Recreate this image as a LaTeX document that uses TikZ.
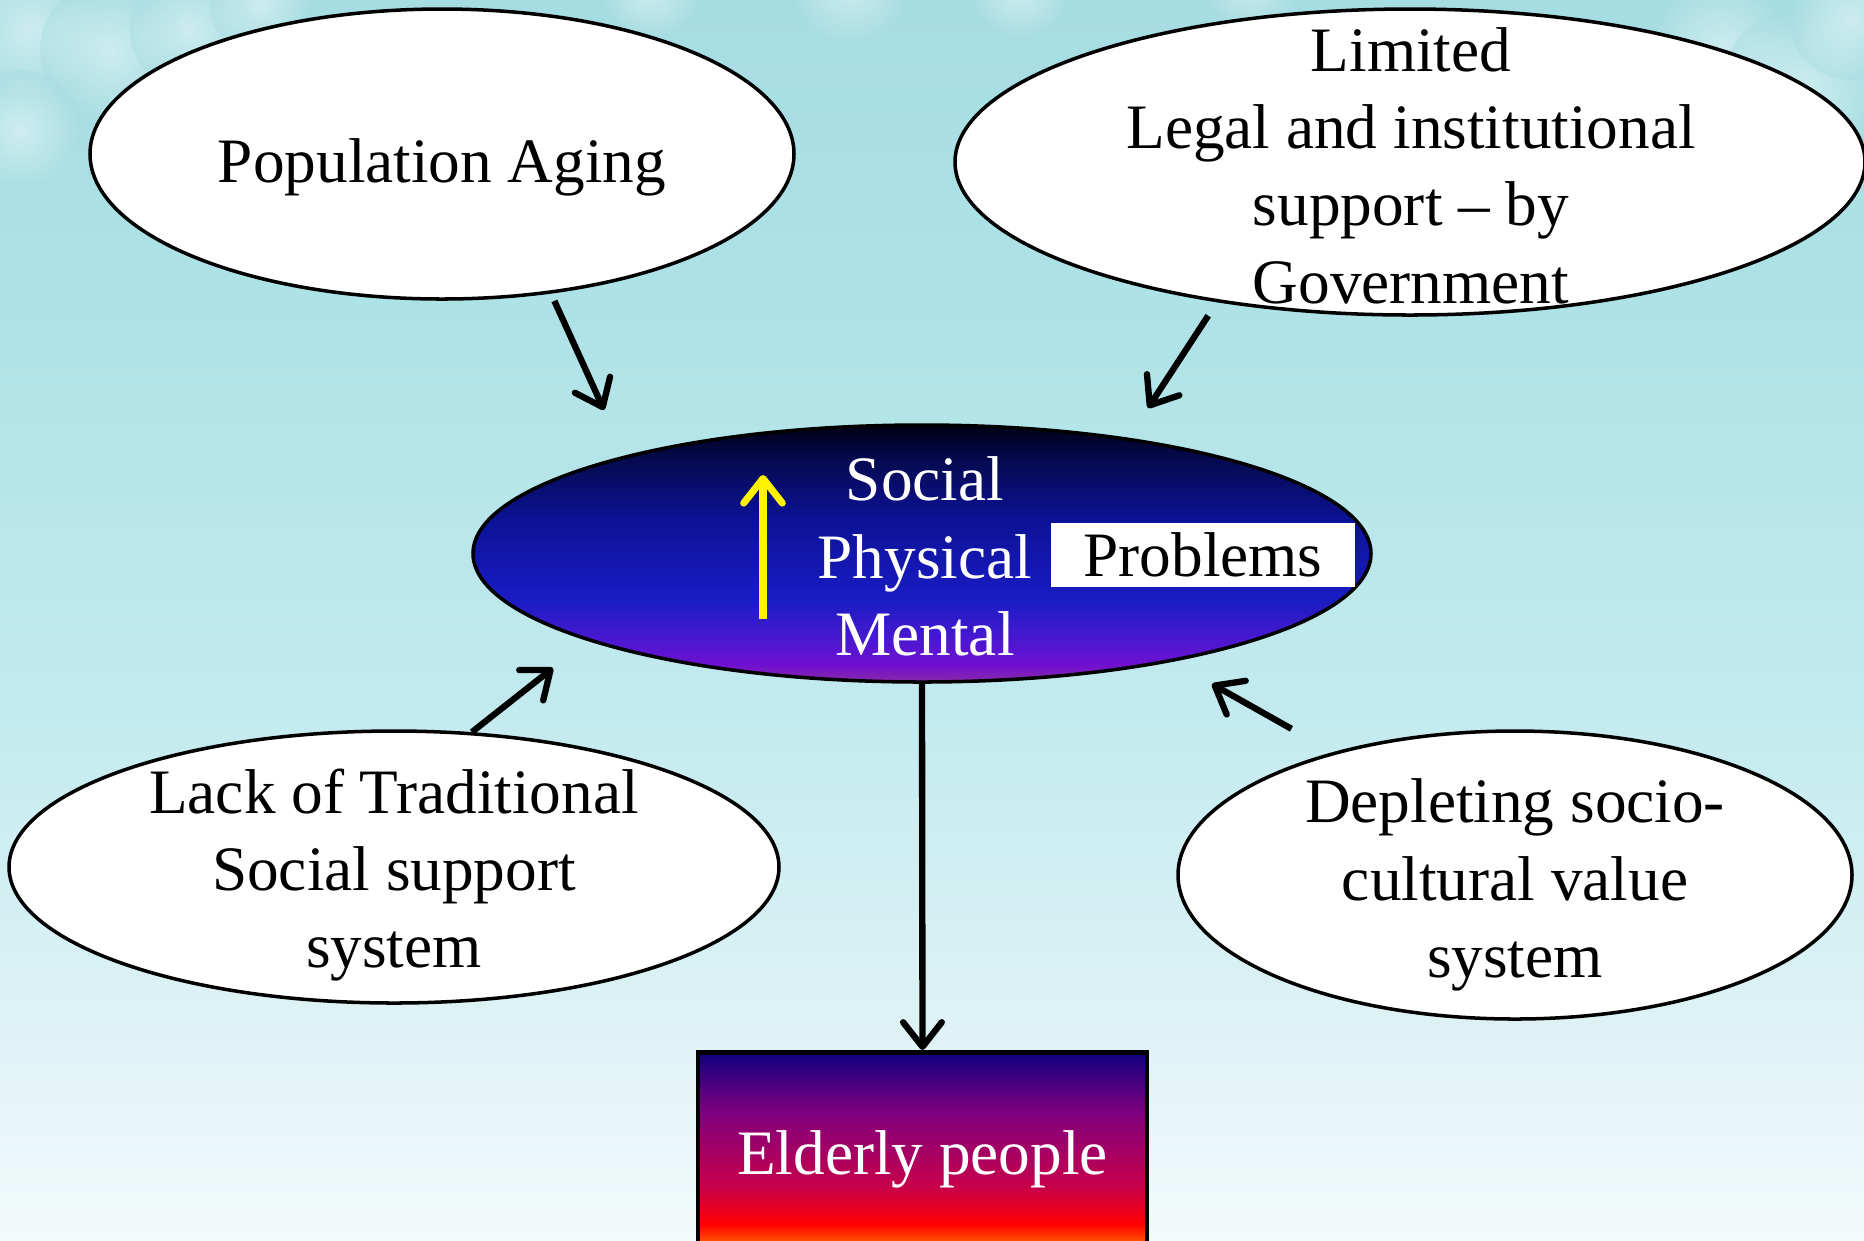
\documentclass[tikz,border=0pt]{standalone}
\usepackage{fontspec}
\setmainfont{Liberation Serif}
\usetikzlibrary{positioning}
\usetikzlibrary{shapes.geometric}
\usetikzlibrary{arrows.meta}

\definecolor{skytop}{HTML}{A6DDE2}
\definecolor{skyhigh}{HTML}{ADE2E6}
\definecolor{skymid}{HTML}{C2EAEE}
\definecolor{skylow}{HTML}{E0F3F6}
\definecolor{skyfoot}{HTML}{F4FAFB}
\pgfdeclareverticalshading{sky}{100bp}{color(0bp)=(skyfoot); color(25bp)=(skyfoot); color(32.7bp)=(skylow); color(46.8bp)=(skymid); color(62.9bp)=(skyhigh); color(75bp)=(skytop); color(100bp)=(skytop)}

\definecolor{probA}{HTML}{000014}
\definecolor{probB}{HTML}{050A50}
\definecolor{probC}{HTML}{0C1296}
\definecolor{probD}{HTML}{1A1CC4}
\definecolor{probE}{HTML}{4A18D0}
\definecolor{probF}{HTML}{7010D0}
\definecolor{probG}{HTML}{8A2AA8}
\pgfdeclareverticalshading{problem}{100bp}{color(0bp)=(probG); color(25bp)=(probG); color(28.3bp)=(probF); color(33.2bp)=(probE); color(41bp)=(probD); color(56.5bp)=(probC); color(68.2bp)=(probB); color(75bp)=(probA); color(100bp)=(probA)}

\definecolor{oldA}{HTML}{10007F}
\definecolor{oldB}{HTML}{80007F}
\definecolor{oldC}{HTML}{C8004A}
\definecolor{oldD}{HTML}{FF0000}
\definecolor{oldE}{HTML}{FF5A00}
\pgfdeclareverticalshading{elderly}{100bp}{color(0bp)=(oldE); color(25bp)=(oldE); color(30.8bp)=(oldE); color(35bp)=(oldD); color(43.6bp)=(oldC); color(61bp)=(oldB); color(75bp)=(oldA); color(100bp)=(oldA)}

\begin{document}
\begin{tikzpicture}[font=\fontsize{18}{22}\selectfont,
	bubble/.style={ellipse, draw, line width=1pt, fill=white, inner sep=0pt},
	words/.style={align=center, inner sep=0pt},
	arr/.style={line width=1.8pt, -{Straight Barb[round,length=7pt,width=11pt]}}]
		\clip (0,0) rectangle (18.64,-12.40);
		\shade[shading=sky] (0,0) rectangle (18.64,-12.40);
		% clouds
		\foreach \cx/\cy/\cr in {0.3/-0.3/0.7, 1.1/-0.5/0.7, 1.9/-0.3/0.6, 2.6/-0.05/0.5, 0.2/-1.3/0.6,
			6.5/0.1/0.5, 8.5/0.15/0.6, 10.2/0.1/0.5, 12.5/0.2/0.5,
			17.2/-0.5/0.7, 18.0/-0.9/0.8, 18.5/-0.2/0.6}
			\shade[inner color=white, outer color=skytop, opacity=0.45] (\cx,\cy) circle (\cr);
		% causes
		\node[bubble, minimum width=7.04cm, minimum height=2.90cm] (pop) at (4.42,-1.54) {};
		\node[words] (poptext) at (4.42,-1.67) {Population Aging};
		\node[bubble, minimum width=9.10cm, minimum height=3.06cm] (gov) at (14.10,-1.62) {};
		\node[words] (govtext) at (14.11,-1.655) {Limited\\Legal and institutional\\support – by\\Government};
		\node[bubble, minimum width=7.70cm, minimum height=2.72cm] (lack) at (3.94,-8.67) {};
		\node[words] (lacktext) at (3.94,-8.75) {Lack of Traditional\\Social support\\system};
		\node[bubble, minimum width=6.74cm, minimum height=2.88cm] (dep) at (15.15,-8.75) {};
		\node[words] (deptext) at (15.15,-8.85) {Depleting socio-\\cultural value\\system};
		% problems
		\node[ellipse, draw, line width=1pt, shade, shading=problem, minimum width=8.98cm, minimum height=2.57cm] (prob) at (9.22,-5.535) {};
		\node[words, text=white] (probtext) at (9.25,-5.565) {Social\\Physical\\Mental};
		\node[fill=white, inner sep=0pt, minimum width=3.04cm, minimum height=0.64cm] (probbox) at (12.03,-5.55) {Problems};
		\coordinate (riseLow) at (7.63,-6.19);
		\coordinate (riseHigh) at (7.63,-4.75);
		\draw[arr, yellow, line width=2pt] (riseLow) -- (riseHigh);
		% elderly
		\node[draw, line width=1.3pt, shade, shading=elderly, text=white, minimum width=4.49cm, minimum height=2.15cm, anchor=north] (old) at (9.225,-10.50) {Elderly people};
		% arrows
		\coordinate (popTip) at (6.04,-4.10);
		\coordinate (govTip) at (11.48,-4.08);
		\coordinate (lackTip) at (5.53,-6.68);
		\coordinate (depTip) at (12.12,-6.84);
		\draw[arr, shorten <=0.8mm] (pop.-52) -- (popTip);
		\draw[arr, shorten <=1.6mm] (gov.-144) -- (govTip);
		\draw[arr] (lack.60) -- (lackTip);
		\draw[arr, shorten <=4.75mm] (dep.146.7) -- (depTip);
		\draw[arr] (prob.south) -- (old.north);
	\end{tikzpicture}
\end{document}
